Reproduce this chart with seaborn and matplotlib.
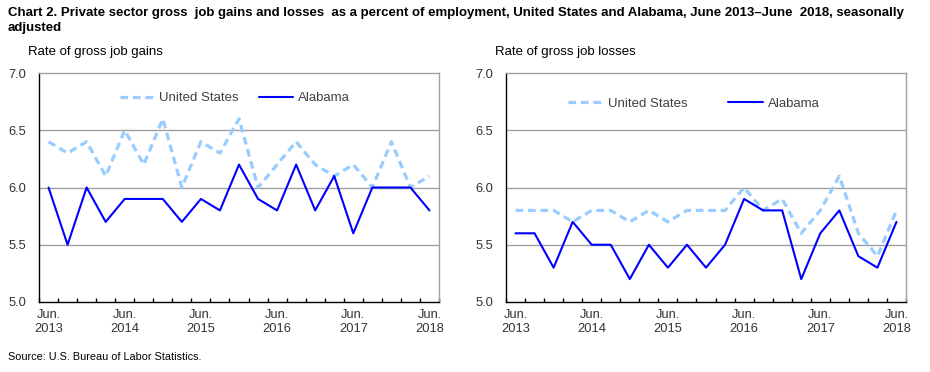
import matplotlib
matplotlib.use("Agg")
import matplotlib.pyplot as plt
import seaborn as sns
import pandas as pd
import numpy as np

quarters = list(range(21))
tick_positions = [0, 4, 8, 12, 16, 20]
tick_labels = ["Jun.\n2013", "Jun.\n2014", "Jun.\n2015", "Jun.\n2016", "Jun.\n2017", "Jun.\n2018"]

gains_us = [6.4, 6.3, 6.4, 6.1, 6.5, 6.2, 6.6, 6.0, 6.4, 6.3, 6.6, 6.0, 6.2, 6.4, 6.2, 6.1, 6.2, 6.0, 6.4, 6.0, 6.1]
gains_al = [6.0, 5.5, 6.0, 5.7, 5.9, 5.9, 5.9, 5.7, 5.9, 5.8, 6.2, 5.9, 5.8, 6.2, 5.8, 6.1, 5.6, 6.0, 6.0, 6.0, 5.8]
losses_us = [5.8, 5.8, 5.8, 5.7, 5.8, 5.8, 5.7, 5.8, 5.7, 5.8, 5.8, 5.8, 6.0, 5.8, 5.9, 5.6, 5.8, 6.1, 5.6, 5.4, 5.8]
losses_al = [5.6, 5.6, 5.3, 5.7, 5.5, 5.5, 5.2, 5.5, 5.3, 5.5, 5.3, 5.5, 5.9, 5.8, 5.8, 5.2, 5.6, 5.8, 5.4, 5.3, 5.7]

title = ("Chart 2. Private sector gross  job gains and losses  as a percent of employment, "
         "United States and Alabama, June 2013\u2013June  2018, seasonally\nadjusted")
subtitles = ["Rate of gross job gains", "Rate of gross job losses"]
source = "Source: U.S. Bureau of Labor Statistics."

sns.set_theme(style="white")
plt.rcParams['font.family'] = ['Liberation Sans', 'DejaVu Sans']

US_COLOR = "#99CCFF"
AL_COLOR = "#0000FF"
FRAME_GRAY = "#A0A0A0"
TEXT = "#333333"

fig = plt.figure(figsize=(9.3, 3.72), dpi=100)
ax1 = fig.add_axes([39/930, 70/372, 400/930, 229/372])
ax2 = fig.add_axes([506/930, 70/372, 400/930, 229/372])

panels = [
    (ax1, gains_us, gains_al, (0.49, 0.89), 1.5),
    (ax2, losses_us, losses_al, (0.47, 0.865), 3.1),
]

for ax, us, al, legpos, colsp in panels:
    df = pd.DataFrame({"q": quarters, "United States": us, "Alabama": al})
    sns.lineplot(data=df, x="q", y="United States", ax=ax, color=US_COLOR,
                 linewidth=2.3, label="United States")
    ax.lines[-1].set_dashes((2.4, 1.5))
    sns.lineplot(data=df, x="q", y="Alabama", ax=ax, color=AL_COLOR,
                 linewidth=1.5, label="Alabama")
    ax.set_xlim(-0.5, 20.5)
    ax.set_ylim(5.0, 7.0)
    ax.set_xlabel("")
    ax.set_ylabel("")
    ax.set_yticks([5.0, 5.5, 6.0, 6.5, 7.0])
    ax.set_yticklabels(["5.0", "5.5", "6.0", "6.5", "7.0"])
    for yv in [5.5, 6.0, 6.5]:
        ax.axhline(yv, color=FRAME_GRAY, linewidth=1.0, zorder=0)
    ax.set_xticks(tick_positions)
    ax.set_xticklabels(tick_labels)
    ax.set_xticks(np.arange(-0.5, 21, 1.0), minor=True)
    ax.tick_params(axis="x", which="major", length=0, pad=5, labelsize=9.3, labelcolor=TEXT)
    ax.tick_params(axis="x", which="minor", direction="in", length=3, width=1, color="black", bottom=True)
    ax.tick_params(axis="y", length=0, pad=9, labelsize=9.3, labelcolor=TEXT)
    for s in ["left", "bottom"]:
        ax.spines[s].set_color("black")
        ax.spines[s].set_linewidth(1.0)
    for s in ["top", "right"]:
        ax.spines[s].set_color(FRAME_GRAY)
        ax.spines[s].set_linewidth(1.0)
    leg = ax.legend(loc="center", bbox_to_anchor=legpos, ncol=2, frameon=False,
                    fontsize=9.5, handlelength=2.6, handletextpad=0.4,
                    columnspacing=colsp, labelcolor="#404040")

fig.text(8/930, 1 - 7/372, title, fontsize=9.5, fontweight="bold", va="top", ha="left",
         color="black", linespacing=1.3)
fig.text(28/930, 1 - 52/372, subtitles[0], fontsize=9.5, va="center", ha="left", color="black")
fig.text(495/930, 1 - 52/372, subtitles[1], fontsize=9.5, va="center", ha="left", color="black")
fig.text(8/930, 1 - 357/372, source, fontsize=7.8, va="center", ha="left", color="black")

fig.savefig("out.png", dpi=100)
